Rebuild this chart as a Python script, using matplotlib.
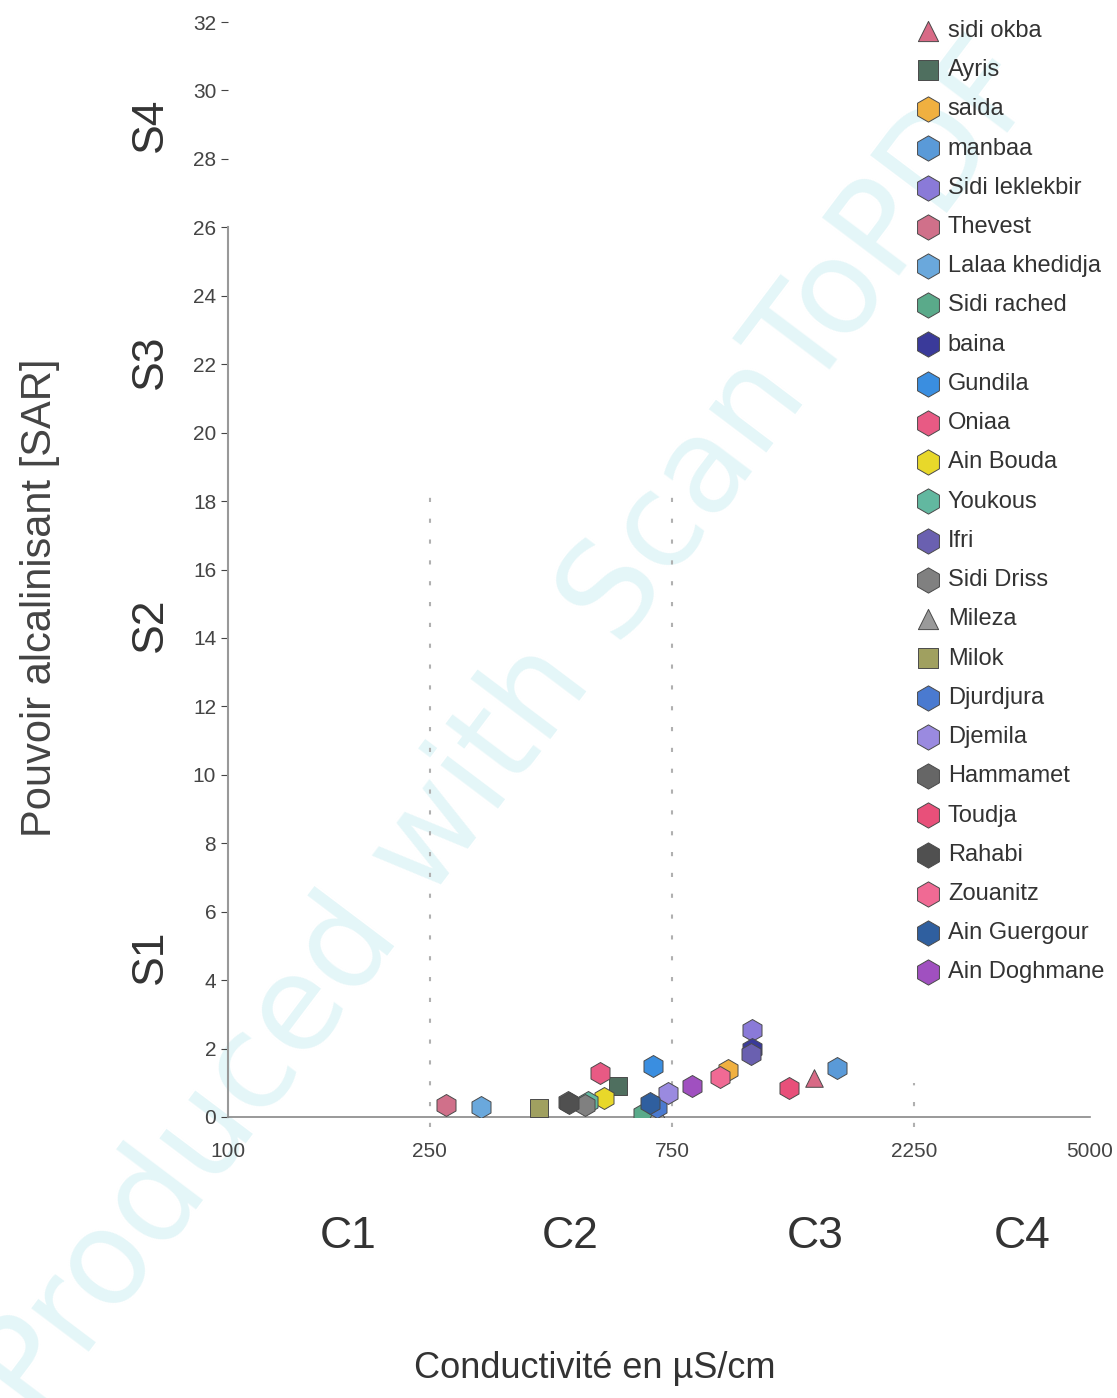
import matplotlib
matplotlib.use("Agg")
import matplotlib.pyplot as plt
import numpy as np

stations = ["sidi okba", "Ayris", "saida", "manbaa", "Sidi leklekbir", "Thevest",
            "Lalaa khedidja", "Sidi rached", "baina", "Gundila", "Oniaa", "Ain Bouda",
            "Youkous", "Ifri", "Sidi Driss", "Mileza", "Milok", "Djurdjura", "Djemila",
            "Hammamet", "Toudja", "Rahabi", "Zouanitz", "Ain Guergour", "Ain Doghmane"]
conductivity = [1432, 586, 965, 1588, 1080, 269,
                315, 657, 1080, 687, 540, 550,
                512, 1075, 505, 700, 410, 700, 735,
                468, 1276, 470, 931, 678, 822]
sar = [1.13, 0.90, 1.37, 1.43, 2.55, 0.35,
       0.28, 0.10, 2.00, 1.50, 1.30, 0.55,
       0.45, 1.85, 0.35, 0.15, 0.25, 0.30, 0.70,
       0.45, 0.85, 0.40, 1.17, 0.40, 0.90]
colors = ["#d86a86", "#4f6f5f", "#f0b040", "#5a9ad8", "#8a7ad8", "#d0708a",
          "#6aa8dc", "#5aaa8a", "#3a3a9a", "#3a8ee0", "#e85a84", "#e8d82a",
          "#62b8a0", "#6a60b0", "#808080", "#9a9a9a", "#a0a060", "#4a7ad0", "#9a8ae0",
          "#666666", "#e8507a", "#505050", "#f06a94", "#2f5f9f", "#a050c0"]
markers = ["^", "s", "h", "h", "h", "h",
           "h", "h", "h", "h", "h", "h",
           "h", "h", "h", "^", "s", "h", "h",
           "h", "h", "h", "h", "h", "h"]

x_ticks = [100, 250, 750, 2250, 5000]
y_ticks = list(range(0, 33, 2))
class_bounds = [250, 750, 2250]
class_line_top = [18.5, 18.5, 1.0]

W, H = 1117, 1398
fig = plt.figure(figsize=(W / 100, H / 100), dpi=100)
ax = fig.add_axes([228 / W, 1 - 1117 / H, (1090 - 228) / W, (1117 - 22) / H])

FONT = ["Liberation Sans", "DejaVu Sans"]

# watermark
fig.text(0.458, 0.478, "Produced with ScanToPDF", fontsize=94, color="#e4f6f8",
         rotation=53, ha="center", va="center", zorder=-10, family="DejaVu Sans")

ax.set_xscale("log")
ax.set_xlim(100, 5000)
ax.set_ylim(0, 32)
ax.patch.set_alpha(0)

for b, top in zip(class_bounds, class_line_top):
    ax.plot([b, b], [-0.3, top], color="#b0b0b0", lw=1.5, ls=(0, (2, 8)), zorder=1,
            clip_on=False)

for name, cx, cy, c, m in zip(stations, conductivity, sar, colors, markers):
    ax.scatter(cx, cy, s=250 if m == "h" else 160, c=c, marker=m,
               edgecolors="#4a4a4a", linewidths=0.7, label=name, zorder=3)

ax.set_xticks(x_ticks)
ax.set_xticklabels([str(t) for t in x_ticks])
ax.xaxis.set_minor_locator(matplotlib.ticker.NullLocator())
ax.set_yticks(y_ticks)
ax.tick_params(axis="both", labelsize=15, colors="#444444", length=5, width=0.8)
for lab in ax.get_xticklabels() + ax.get_yticklabels():
    lab.set_family(FONT)
ax.tick_params(axis="x", pad=18, length=0)

for s in ["top", "right"]:
    ax.spines[s].set_visible(False)
ax.spines["left"].set_bounds(0, 26)
ax.spines["left"].set_color("#999999")
ax.spines["bottom"].set_color("#888888")
ax.spines["left"].set_linewidth(1.5)
ax.spines["bottom"].set_linewidth(1.2)

# S classes
for lab, yp in [("S4", 125), ("S3", 362), ("S2", 625), ("S1", 957)]:
    fig.text(150 / W, 1 - yp / H, lab, fontsize=32, rotation=90, ha="center",
             va="center", color="#333333", family=FONT)
# C classes
for lab, xp in [("C1", 348), ("C2", 570), ("C3", 815), ("C4", 1022)]:
    fig.text(xp / W, 1 - 1237 / H, lab, fontsize=32, ha="center", va="center",
             color="#333333", family=FONT)

fig.text(40 / W, 1 - 598 / H, "Pouvoir alcalinisant [SAR]", fontsize=30, rotation=90,
         ha="center", va="center", color="#444444", family=FONT)
fig.text(595 / W, 1 - 1368 / H, "Conductivité en µS/cm", fontsize=26, ha="center",
         va="center", color="#333333", family=FONT)

leg = fig.legend(loc="upper left", bbox_to_anchor=(903 / W, 1 - 8 / H), frameon=False,
                 prop={"family": FONT, "size": 17}, labelspacing=0.73,
                 handletextpad=0.3, handlelength=1.1, borderpad=0, markerscale=1.15)
for t in leg.get_texts():
    t.set_color("#333333")

fig.savefig("out.png", dpi=100)
